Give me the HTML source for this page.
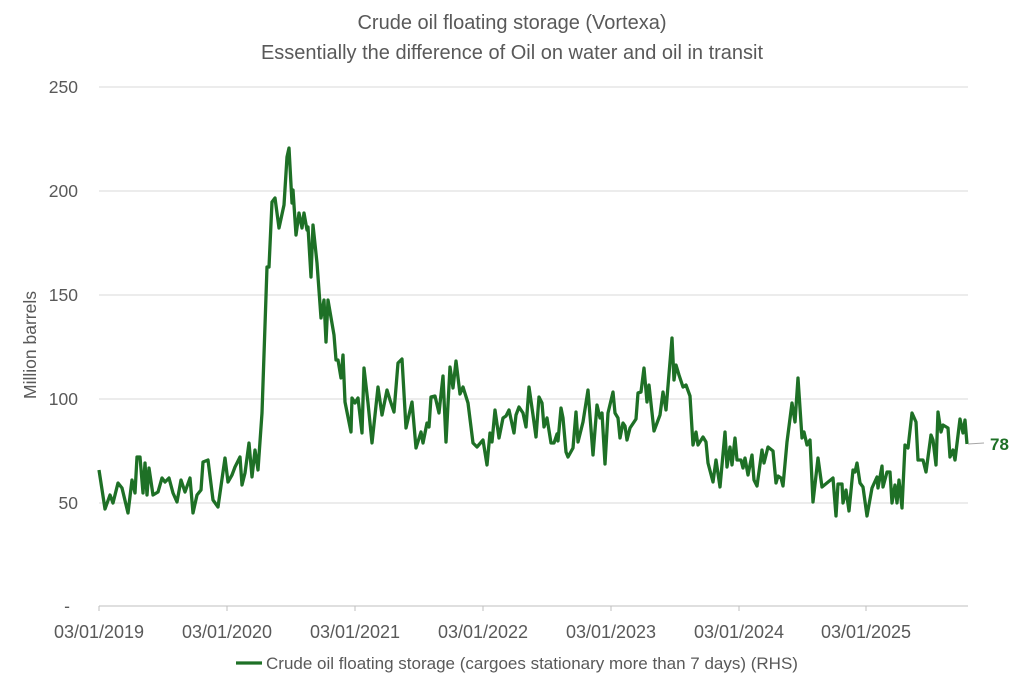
<!DOCTYPE html>
<html><head><meta charset="utf-8"><style>
body{margin:0;background:#fff;}
svg{display:block;font-family:"Liberation Sans",sans-serif;}
</style></head><body>
<svg width="1024" height="690" viewBox="0 0 1024 690">
<rect width="1024" height="690" fill="#fff"/>
<g fill="#595959" font-size="20" text-anchor="middle">
<text x="512" y="29">Crude oil floating storage (Vortexa)</text>
<text x="512" y="59">Essentially the difference of Oil on water and oil in transit</text>
</g>
<g stroke="#d9d9d9" stroke-width="1">
<line x1="99" y1="87" x2="968" y2="87"/>
<line x1="99" y1="191" x2="968" y2="191"/>
<line x1="99" y1="295" x2="968" y2="295"/>
<line x1="99" y1="399" x2="968" y2="399"/>
<line x1="99" y1="503" x2="968" y2="503"/>
</g>
<line x1="99" y1="606" x2="968" y2="606" stroke="#bfbfbf" stroke-width="1"/>
<g stroke="#bfbfbf"><line x1="99" y1="606" x2="99" y2="611"/><line x1="227" y1="606" x2="227" y2="611"/><line x1="355" y1="606" x2="355" y2="611"/><line x1="483" y1="606" x2="483" y2="611"/><line x1="611" y1="606" x2="611" y2="611"/><line x1="739" y1="606" x2="739" y2="611"/><line x1="866" y1="606" x2="866" y2="611"/></g>
<g fill="#595959" font-size="17.5" text-anchor="end">
<text x="78" y="93">250</text><text x="78" y="197">200</text><text x="78" y="301">150</text><text x="78" y="405">100</text><text x="78" y="509">50</text><text x="70" y="612">-</text>
</g>
<g fill="#595959" font-size="18" text-anchor="middle">
<text x="99" y="638">03/01/2019</text><text x="227" y="638">03/01/2020</text><text x="355" y="638">03/01/2021</text><text x="483" y="638">03/01/2022</text><text x="611" y="638">03/01/2023</text><text x="739" y="638">03/01/2024</text><text x="866" y="638">03/01/2025</text>
</g>
<text transform="translate(36,345) rotate(-90)" fill="#595959" font-size="17.5" text-anchor="middle">Million barrels</text>
<polyline fill="none" stroke="#1e7026" stroke-width="3.3" stroke-linejoin="round" points="99,470 105,509 110,495 113,503 118,483 122,488 128,513 132,480 135,493 137,457 140,457 143,493 145,463 147,495 149,468 153,495 158,492 162,478 165,482 169,478 173,493 177,502 181,480 185,492 190,478 193,513 197,495 201,490 203,462 208,460 213,500 218,507 225,458 228,482 232,475 235,467 240,457 242,485 245,473 249,443 252,477 255,450 258,470 262,413 267,267 269,267 272,202 275,198 279,228 284,205 287,157 289,148 292,203 293,190 296,235 299,213 302,228 304,213 307,230 308,227 311,277 313,225 317,263 321,318 324,300 326,342 328,300 334,335 336,360 338,360 341,378 343,355 345,402 351,432 352,398 355,403 358,398 362,433 364,368 368,403 372,443 378,387 382,415 387,390 390,400 394,412 398,363 402,359 406,428 412,402 416,448 421,432 423,443 427,423 429,427 431,397 435,396 439,413 443,376 446,442 450,367 453,388 456,361 460,394 463,387 468,403 473,443 477,447 483,440 487,465 490,433 492,442 495,410 499,438 503,418 506,416 509,410 514,433 516,415 519,407 523,413 526,427 529,387 533,415 536,437 539,397 542,403 544,427 547,418 551,443 554,443 557,434 558,441 561,408 563,418 566,452 568,457 573,448 576,412 578,442 583,422 588,390 593,455 597,405 600,418 602,413 605,464 608,413 613,392 615,413 618,418 620,438 623,423 625,426 627,440 630,428 636,419 638,393 641,392 644,368 647,402 649,385 654,431 660,415 663,392 666,410 672,338 674,380 676,365 679,375 683,387 686,385 690,396 693,445 696,432 698,445 703,437 706,442 708,463 713,482 716,460 720,487 725,432 727,467 730,447 732,465 735,438 737,460 741,460 743,468 745,458 748,475 752,455 754,480 757,486 762,450 764,463 768,447 773,451 776,483 778,476 781,478 783,486 787,442 792,403 795,422 798,378 802,438 804,432 807,445 810,440 813,502 818,458 822,487 833,478 836,516 838,484 842,484 843,503 846,490 849,511 853,470 855,472 857,463 860,483 863,487 867,516 872,488 877,477 878,488 882,466 883,487 887,472 890,472 892,503 895,485 897,503 899,480 902,508 905,445 908,448 912,413 916,422 918,460 923,460 926,472 931,435 933,440 936,465 938,412 941,432 943,425 948,428 950,457 953,450 955,460 960,419 963,433 965,420 967,444"/>
<line x1="968" y1="444" x2="984" y2="443" stroke="#a6a6a6" stroke-width="1"/>
<text x="990" y="450" fill="#1e7026" font-size="17" font-weight="bold">78</text>
<line x1="236" y1="663" x2="262" y2="663" stroke="#1e7026" stroke-width="3.3"/>
<text x="266" y="669" fill="#595959" font-size="17">Crude oil floating storage (cargoes stationary more than 7 days) (RHS)</text>
</svg>
</body></html>
